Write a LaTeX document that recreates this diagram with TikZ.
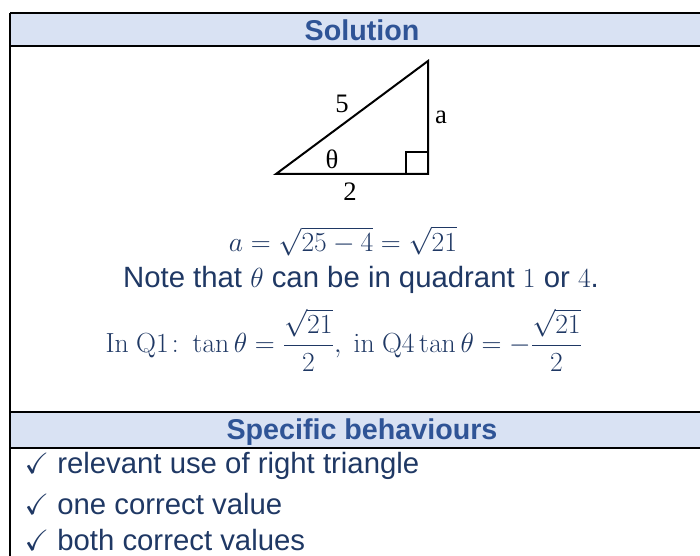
\documentclass[tikz,border=0pt]{standalone}
\usepackage{amsmath,amssymb}
\usepackage[no-math]{fontspec}
\setmainfont{Liberation Sans}
\newfontfamily\trifont{Liberation Serif}
\usepackage{tikz}
\usetikzlibrary{positioning}
\definecolor{solNavy}{HTML}{1F3864}
\definecolor{solHead}{HTML}{2F5496}
\definecolor{solFill}{HTML}{D9E2F3}

\begin{document}
\begin{tikzpicture}[x=0.75pt,y=-0.75pt,font=\fontsize{22}{26}\selectfont,
  headtxt/.style={font=\fontsize{21.5}{26}\selectfont\bfseries, text=solHead},
  body/.style={text=solNavy},
  mathln/.style={text=solNavy, font=\fontsize{20}{24}\selectfont},
  trilbl/.style={font=\fontsize{20}{24}\selectfont\trifont},
  rule/.style={line width=1.5pt}]
\useasboundingbox (0,0) rectangle (700,556);
% --- header bands ---
\fill[solFill] (10,13) rectangle (700,46);
\fill[solFill] (10,412) rectangle (700,448);
\draw[rule] (10,13) -- (700,13);
\draw[rule] (10,46) -- (700,46);
\draw[rule] (10,412) -- (700,412);
\draw[rule] (10,448) -- (700,448);
\draw[rule] (10,13) -- (10,556);
\node[headtxt] (solHd) at (362,30) {Solution};
\node[headtxt] (behHd) at (362,432) {Specific behaviours};
% --- right triangle ---
\coordinate (tA) at (276,174);
\coordinate (tB) at (428,174);
\coordinate (tC) at (428,61);
\draw[rule, line join=miter] (tA) -- (tB) -- (tC) -- cycle;
\draw[line width=1.1pt] (406,174) -- (406,152) -- (428,152);
\node[trilbl] (hyp) at (342,104) {5};
\node[trilbl] (opp) at (441,117) {a};
\node[trilbl] (ang) at (332,159) {θ};
\node[trilbl] (adj) at (350,192) {2};
% --- working ---
\node[mathln] (eqA) at (343,241) {$a=\sqrt{25-4}=\sqrt{21}$};
\node[body] (note) at (361,280) {Note that $\theta$ can be in quadrant $1$ or $4$.};
\node[mathln] (tanQ) at (344,340) {$\mathrm{In\ Q1\colon}\tan\theta=\dfrac{\sqrt{21}}{2},\ \mathrm{in\ Q4}\tan\theta=-\dfrac{\sqrt{21}}{2}$};
% --- behaviours ---
\node[body, anchor=west] (bhvA) at (20,466) {$\checkmark$ relevant use of right triangle};
\node[body, anchor=west] (bhvB) at (20,504) {$\checkmark$ one correct value};
\node[body, anchor=west] (bhvC) at (20,540) {$\checkmark$ both correct values};
\end{tikzpicture}
\end{document}
